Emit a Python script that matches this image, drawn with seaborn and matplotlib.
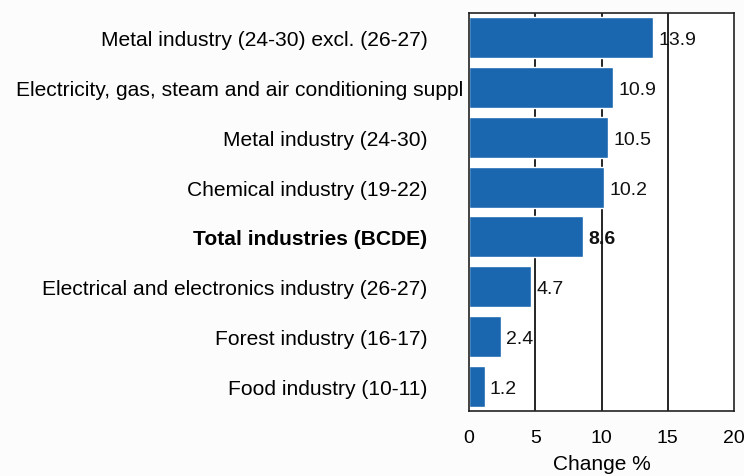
import matplotlib
matplotlib.use("Agg")
import matplotlib.pyplot as plt
import matplotlib.transforms as mtransforms
import seaborn as sns
import pandas as pd

categories = [
    "Metal industry (24-30) excl. (26-27)",
    "Electricity, gas, steam and air conditioning suppl",
    "Metal industry (24-30)",
    "Chemical industry (19-22)",
    "Total industries (BCDE)",
    "Electrical and electronics industry (26-27)",
    "Forest industry (16-17)",
    "Food industry (10-11)",
]
values = [13.9, 10.9, 10.5, 10.2, 8.6, 4.7, 2.4, 1.2]
xticks = [0, 5, 10, 15, 20]

df = pd.DataFrame({"cat": categories, "val": values})

sns.set_theme(style="white")
plt.rcParams["font.family"] = ["Liberation Sans", "DejaVu Sans"]
plt.rcParams["text.color"] = "black"

fig = plt.figure(figsize=(7.44, 4.77), dpi=100, facecolor="#fcfcfc")
ax = fig.add_axes([469 / 744, 65 / 477, 265 / 744, 398 / 477])
ax.set_facecolor("white")

for x in xticks[1:-1]:
    ax.axvline(x, color="black", lw=1.2, zorder=0)

sns.barplot(data=df, x="val", y="cat", color="#1a67b0", saturation=1,
            width=0.82, ax=ax, zorder=2)

for i, v in enumerate(values):
    bold = categories[i].startswith("Total")
    ax.text(v + 0.38, i + 0.04, f"{v}", va="center", ha="left", fontsize=14,
            fontweight="bold" if bold else "normal", color="#111111", zorder=3)

ax.set_xlim(0, 20)
ax.set_xticks(xticks)
ax.set_xticklabels([str(t) for t in xticks], fontsize=14, color="black")
ax.set_xlabel("Change %", fontsize=15, labelpad=6, color="black")
ax.set_ylabel("")
ax.tick_params(axis="y", length=0, pad=30, labelsize=15.1, labelcolor="black")
ax.tick_params(axis="x", length=0, pad=13, labelcolor="black")

for lab in ax.get_yticklabels():
    if lab.get_text().startswith("Total"):
        lab.set_fontweight("bold")
    if lab.get_text().startswith("Electricity"):
        lab.set_transform(lab.get_transform() +
                          mtransforms.ScaledTranslation(36 / 100, 0, fig.dpi_scale_trans))

for s in ax.spines.values():
    s.set_visible(True)
    s.set_color("#222222")
    s.set_linewidth(1.2)

fig.savefig("out.png", dpi=100, facecolor=fig.get_facecolor())
